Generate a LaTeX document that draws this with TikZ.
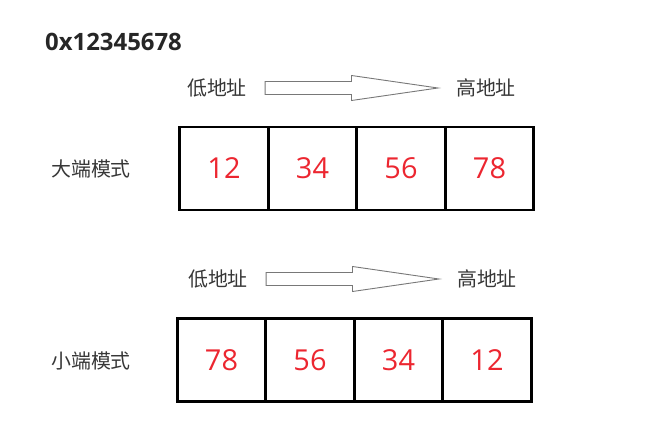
\documentclass[tikz,border=0pt]{standalone}
\usepackage{fontspec}
\setmainfont{Open Sans}
\newfontfamily\cjk{Noto Sans CJK SC}
\usetikzlibrary{calc,positioning}
\definecolor{numred}{RGB}{236,38,48}
\definecolor{txtgray}{RGB}{55,55,55}
\definecolor{arrgray}{RGB}{120,120,120}

\begin{document}
\begin{tikzpicture}[x=1bp,y=-1bp]
\tikzstyle{cell}=[rectangle, draw=black, line width=2.9bp, minimum width=88.5bp, minimum height=83bp, inner sep=0pt, font=\fontsize{29}{29}\selectfont, text=numred, node distance=88.5bp]
\tikzstyle{lbl}=[font=\cjk\fontsize{20}{20}\selectfont, text=txtgray, inner sep=0pt]
\tikzstyle{hollow}=[draw=arrgray, line width=0.9bp, fill=white, line join=miter]

\useasboundingbox (0,0) rectangle (667,443);

  \node[font=\bfseries\fontsize{24}{24}\selectfont, text=black!85, anchor=west, inner sep=0pt] (title) at (45,42) {0x12345678};

  % big endian
  \node[lbl] (lo1) at (217,88) {低地址};
  \node[lbl] (hi1) at (486,88) {高地址};
  \node[lbl] (big) at (91,168.5) {大端模式};
  \node[cell] (b1) at (224,168.5) {12};
  \node[cell] (b2) [right of =b1] {34};
  \node[cell] (b3) [right of =b2] {56};
  \node[cell] (b4) [right of =b3] {78};

  % little endian
  \node[lbl] (lo2) at (218,279) {低地址};
  \node[lbl] (hi2) at (487,279) {高地址};
  \node[lbl] (small) at (91,361) {小端模式};
  \node[cell] (s1) at (221.5,360) {78};
  \node[cell] (s2) [right of =s1] {56};
  \node[cell] (s3) [right of =s2] {34};
  \node[cell] (s4) [right of =s3] {12};

  % low -> high arrows
  \foreach \r in {1,2} {
    \coordinate (a\r) at ($(lo\r.east)+(18,0)$);
    \coordinate (z\r) at ($(hi\r.west)+(-18,0)$);
    \draw[hollow] ($(a\r)+(0,-6.5)$) -- ($(a\r)!0.5!(z\r)+(0,-6.5)$)
      -- ($(a\r)!0.5!(z\r)+(0,-12.5)$) -- (z\r)
      -- ($(a\r)!0.5!(z\r)+(0,12.5)$) -- ($(a\r)!0.5!(z\r)+(0,6.5)$)
      -- ($(a\r)+(0,6.5)$) -- cycle;
  }

\end{tikzpicture}
\end{document}
